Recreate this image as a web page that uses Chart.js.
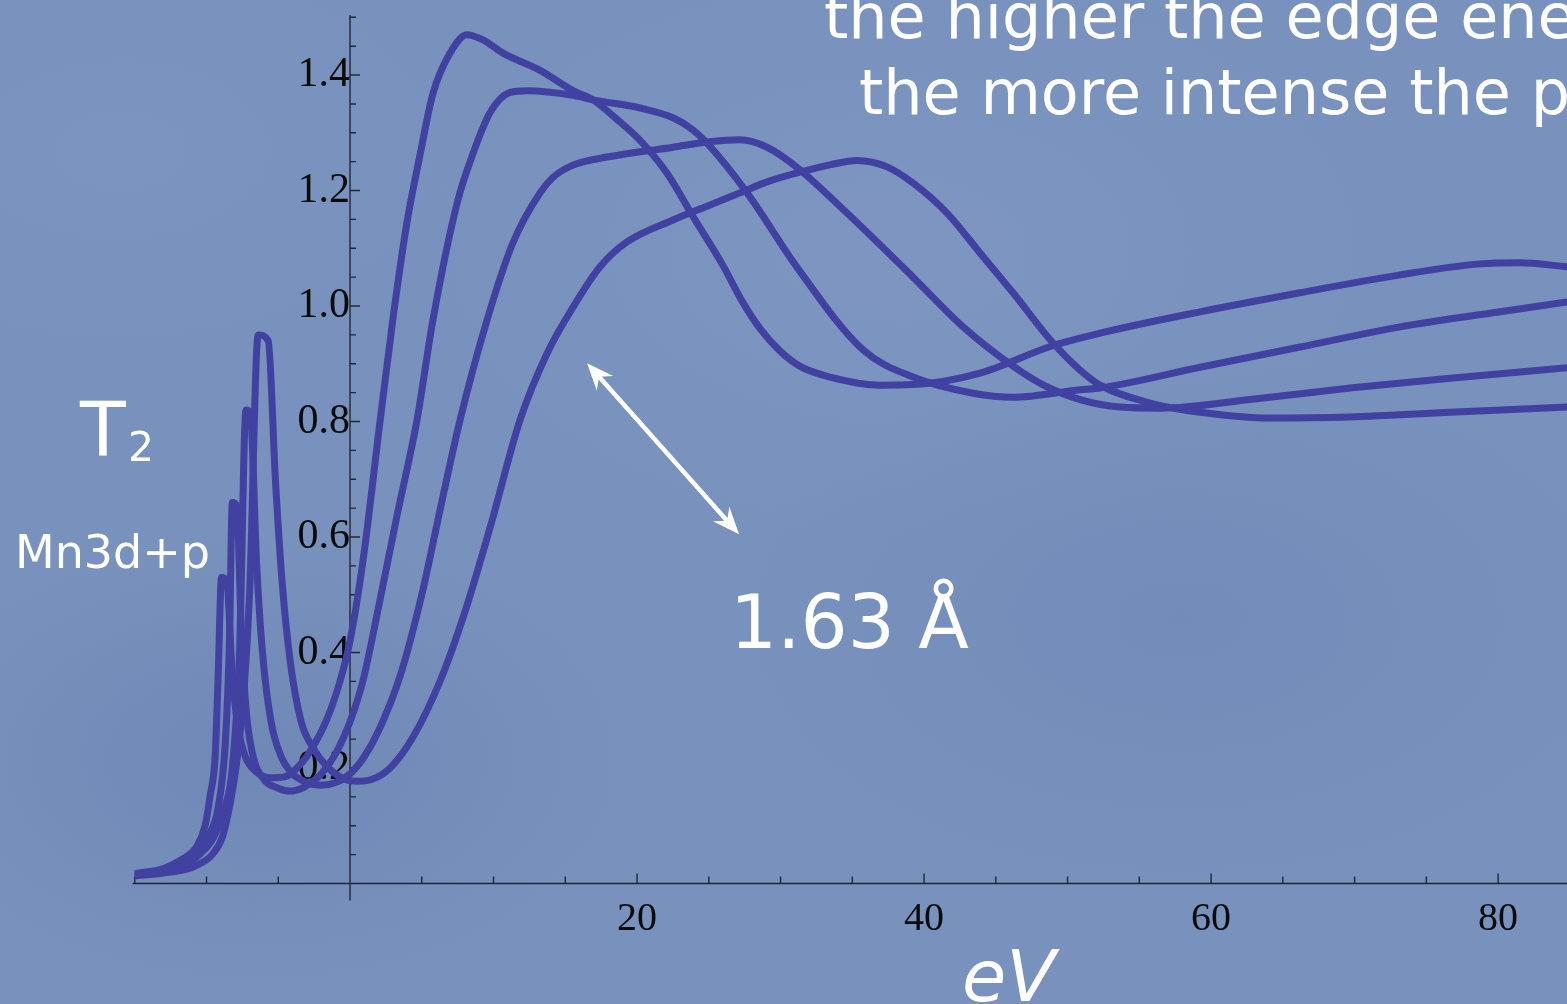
<!DOCTYPE html>
<html>
<head>
<meta charset="utf-8">
<title>T2 Mn3d+p</title>
<script src="https://cdn.jsdelivr.net/npm/chart.js@4.4.1/dist/chart.umd.min.js"></script>
<style>
  html, body { margin: 0; padding: 0; }
  body { width: 1567px; height: 1004px; overflow: hidden; background: #7891bd; }
  #stage {
    position: relative; width: 1567px; height: 1004px; overflow: hidden;
    background:
      radial-gradient(ellipse 520px 320px at 260px 760px, rgba(92,112,160,0.28), rgba(92,112,160,0) 70%),
      radial-gradient(ellipse 640px 380px at 1180px 620px, rgba(100,120,168,0.22), rgba(100,120,168,0) 70%),
      radial-gradient(ellipse 700px 420px at 900px 250px, rgba(150,168,208,0.20), rgba(150,168,208,0) 70%),
      radial-gradient(ellipse 500px 300px at 120px 150px, rgba(140,160,204,0.18), rgba(140,160,204,0) 70%),
      #7891bd;
  }
  canvas { position: absolute; left: 0; top: 0; }
  .note {
    position: absolute; color: #ffffff; white-space: nowrap; line-height: 1;
    font-family: 'DejaVu Sans', 'Noto Sans', sans-serif;
  }
</style>
</head>
<body>
<div id="stage">
  <canvas id="chart" width="1567" height="1004"></canvas>
  <div class="note" style="left:824px; top:-14px; font-size:62px;">the higher the edge energy</div>
  <div class="note" style="left:859px; top:62px; font-size:62px;">the more intense the pre-edge</div>
  <div class="note" style="left:80px; top:392px; font-size:75px;">T</div>
  <div class="note" style="left:128px; top:427px; font-size:41px;">2</div>
  <div class="note" style="left:15px; top:529px; font-size:46px;">Mn3d+p</div>
  <div class="note" style="left:730px; top:585px; font-size:74px;">1.63 Å</div>
  <div class="note" style="left:962px; top:940px; font-size:72px; font-style:oblique;">eV</div>
</div>
<script>
// Photon energy relative to the edge (eV) and T2 intensity for four Mn–O distances.
const energyA = [-15, -13, -11.85, -10.66, -10.1, -9.76, -9.4, -9.2, -8.95, -8.6,
  -8.2, -7.8, -7.3, -6.6, -5.6, -4.5, -3.5, -2.6, -1.6, -0.7,
  0, 0.91, 2.09, 3.0, 3.97, 4.88, 5.78, 6.97, 8.15, 9.27,
  10.66, 13.24, 15.54, 16.93, 18.61, 20.21, 22.09, 23.9, 25.99, 27.4,
  28.6, 29.97, 31.4, 33.45, 36.93, 39.23, 43.9, 48.8, 52.26, 59.23,
  66.2, 73.17, 78.75, 81.53, 84.8];
const intensityA = [0.017, 0.026, 0.04, 0.065, 0.1, 0.15, 0.22, 0.35, 0.53, 0.525,
  0.36, 0.27, 0.22, 0.195, 0.183, 0.185, 0.205, 0.236, 0.285, 0.35,
  0.42, 0.56, 0.80, 0.98, 1.145, 1.262, 1.368, 1.438, 1.47, 1.461,
  1.438, 1.408, 1.373, 1.357, 1.323, 1.287, 1.23, 1.155, 1.07, 1.005,
  0.96, 0.922, 0.895, 0.877, 0.863, 0.864, 0.884, 0.93, 0.953, 0.99,
  1.023, 1.054, 1.073, 1.075, 1.068];

const energyB = [-15, -13, -11.5, -10.5, -9.8, -9.2, -8.7, -8.4, -8.2, -7.9,
  -7.55, -7.2, -6.7, -6.0, -5.0, -4.2, -3.2, -2.0, -1.0, 0,
  0.91, 2.0, 3.3, 4.67, 5.78, 7.46, 8.57, 9.76, 11.15, 12.33,
  15.54, 16.93, 20.21, 22.51, 23.9, 24.88, 27.67, 31.15, 35.75, 39.23,
  43.41, 46.2, 50.87, 52.26, 59.23, 66.2, 73.17, 80.14, 84.8];
const intensityB = [0.016, 0.023, 0.036, 0.055, 0.085, 0.13, 0.24, 0.42, 0.66, 0.655,
  0.42, 0.29, 0.215, 0.18, 0.165, 0.16, 0.167, 0.19, 0.225, 0.28,
  0.352, 0.48, 0.64, 0.803, 0.976, 1.178, 1.264, 1.335, 1.37, 1.373,
  1.365, 1.357, 1.343, 1.326, 1.305, 1.282, 1.196, 1.067, 0.924, 0.877,
  0.849, 0.842, 0.855, 0.858, 0.894, 0.929, 0.964, 0.99, 1.007];

const energyC = [-15, -13, -11.5, -10.5, -9.5, -8.8, -8.2, -7.7, -7.25, -6.95,
  -6.5, -6.1, -5.5, -4.8, -4.0, -3.0, -2.1, -1.0, 0, 1.0,
  2.0, 3.5, 5.0, 6.3, 7.67, 9.55, 11.36, 13.24, 14.15, 15.54,
  17.91, 22.51, 24.88, 27.18, 29.06, 31.15, 34.63, 39.23, 42.72, 46.2,
  48.57, 50.87, 53.66, 56.5, 62.72, 69.69, 76.66, 84.8];
const intensityC = [0.015, 0.021, 0.032, 0.05, 0.08, 0.125, 0.2, 0.4, 0.82, 0.815,
  0.55, 0.4, 0.28, 0.22, 0.19, 0.175, 0.17, 0.175, 0.19, 0.22,
  0.265, 0.36, 0.5, 0.65, 0.803, 0.976, 1.11, 1.196, 1.223, 1.244,
  1.258, 1.275, 1.284, 1.288, 1.275, 1.24, 1.161, 1.05, 0.964, 0.896,
  0.86, 0.838, 0.825, 0.823, 0.838, 0.858, 0.875, 0.893];

const energyD = [-15, -13, -11.5, -10.8, -9.6, -8.9, -8.5, -8.2, -7.9, -7.4,
  -7.0, -6.4, -5.7, -5.2, -4.74, -4.18, -3.4, -2.6, -1.5, -0.5,
  0.5, 1.5, 2.8, 4.4, 6.3, 8.0, 9.8, 11.85, 13.73, 15.54,
  17.42, 19.3, 22.51, 24.88, 27.18, 29.06, 31.85, 33.5, 35.33, 37.42,
  39.23, 41.6, 43.9, 46.2, 48.99, 50.87, 52.26, 55.75, 59.23, 64.11,
  69.69, 76.66, 84.8];
const intensityD = [0.013, 0.018, 0.024, 0.03, 0.05, 0.08, 0.12, 0.16, 0.21, 0.33,
  0.5, 0.95, 0.94, 0.7, 0.525, 0.387, 0.28, 0.236, 0.2, 0.182,
  0.177, 0.18, 0.2, 0.254, 0.352, 0.47, 0.62, 0.803, 0.918, 0.998,
  1.068, 1.111, 1.149, 1.173, 1.196, 1.215, 1.235, 1.245, 1.252, 1.241,
  1.213, 1.161, 1.092, 1.023, 0.936, 0.889, 0.863, 0.832, 0.816, 0.806,
  0.808, 0.816, 0.825];

// Axis labelling
const xTickLabels = [20, 40, 60, 80];
const yTickLabels = [0.2, 0.4, 0.6, 0.8, 1.0, 1.2, 1.4];
const xRange = [-15, 84.8];
const yRange = [0, 1.504];

// Double-headed arrow next to the 1.63 Å label, in (eV, intensity) units
const arrowFrom = [16.52, 0.901];
const arrowTo = [27.11, 0.605];

const xTickValues = [];
for (let i = -3; i <= 16; i++) xTickValues.push(i * 5);
const yTickValues = [];
for (let i = 1; i <= 30; i++) yTickValues.push(i * 5 / 100);

const isLabelled = (list, v) => list.some(l => Math.abs(l - v) < 1e-9);

const curves = [
  [energyA, intensityA],
  [energyB, intensityB],
  [energyC, intensityC],
  [energyD, intensityD]
];

const LINE = '#4141a1';

// Axes cross at the origin; tick marks point into the plot.
const crossAxes = {
  id: 'crossAxes',
  beforeDatasetsDraw(chart) {
    const { ctx, chartArea, scales: { x, y } } = chart;
    const x0 = x.getPixelForValue(0);
    const y0 = y.getPixelForValue(0);
    ctx.save();
    ctx.strokeStyle = '#222736';
    ctx.lineWidth = 1.4;
    ctx.beginPath();
    ctx.moveTo(chartArea.left - 2, y0);
    ctx.lineTo(chartArea.right, y0);
    ctx.moveTo(x0, y.getPixelForValue(y.max));
    ctx.lineTo(x0, y0 + 17);
    x.ticks.forEach(t => {
      if (t.value === 0) return;
      const px = x.getPixelForValue(t.value);
      const len = isLabelled(xTickLabels, t.value) ? 10 : 7;
      ctx.moveTo(px, y0);
      ctx.lineTo(px, y0 - len);
    });
    y.ticks.forEach(t => {
      const py = y.getPixelForValue(t.value);
      const len = isLabelled(yTickLabels, t.value) ? 10 : 6;
      ctx.moveTo(x0, py);
      ctx.lineTo(x0 + len, py);
    });
    ctx.stroke();
    ctx.restore();
  }
};

function arrowHead(ctx, tx, ty, ang) {
  const head = 27, half = 11, notch = 18;
  const c = Math.cos(ang), s = Math.sin(ang);
  const bx = tx - c * head, by = ty - s * head;
  ctx.beginPath();
  ctx.moveTo(tx, ty);
  ctx.lineTo(bx - s * half, by + c * half);
  ctx.lineTo(tx - c * notch, ty - s * notch);
  ctx.lineTo(bx + s * half, by - c * half);
  ctx.closePath();
  ctx.fill();
}

const distanceArrow = {
  id: 'distanceArrow',
  afterDatasetsDraw(chart) {
    const { ctx, scales: { x, y } } = chart;
    const x1 = x.getPixelForValue(arrowFrom[0]), y1 = y.getPixelForValue(arrowFrom[1]);
    const x2 = x.getPixelForValue(arrowTo[0]), y2 = y.getPixelForValue(arrowTo[1]);
    const ang = Math.atan2(y2 - y1, x2 - x1);
    const c = Math.cos(ang), s = Math.sin(ang);
    ctx.save();
    ctx.strokeStyle = '#ffffff';
    ctx.fillStyle = '#ffffff';
    ctx.lineWidth = 4.5;
    ctx.beginPath();
    ctx.moveTo(x1 + c * 16, y1 + s * 16);
    ctx.lineTo(x2 - c * 16, y2 - s * 16);
    ctx.stroke();
    arrowHead(ctx, x2, y2, ang);
    arrowHead(ctx, x1, y1, ang + Math.PI);
    ctx.restore();
  }
};

const serif = "'Liberation Serif', 'DejaVu Serif', serif";

new Chart(document.getElementById('chart'), {
  type: 'line',
  data: {
    datasets: curves.map(([ex, iy]) => ({
      data: ex.map((e, i) => ({ x: e, y: iy[i] })),
      borderColor: LINE,
      borderWidth: 7,
      pointRadius: 0,
      fill: false,
      cubicInterpolationMode: 'monotone',
      borderJoinStyle: 'round',
      borderCapStyle: 'round'
    }))
  },
  options: {
    responsive: false,
    animation: false,
    devicePixelRatio: 1,
    layout: { padding: { left: 134.75, right: 0, top: 15, bottom: 0 } },
    plugins: { legend: { display: false }, tooltip: { enabled: false } },
    scales: {
      x: {
        type: 'linear',
        min: xRange[0],
        max: xRange[1],
        afterFit(scale) {
          scale.height = 120.5;
          scale.paddingLeft = 0;
          scale.paddingRight = 0;
        },
        afterBuildTicks(scale) { scale.ticks = xTickValues.map(v => ({ value: v })); },
        grid: { display: false, drawTicks: false },
        border: { display: false },
        ticks: {
          autoSkip: false, maxRotation: 0, padding: 12,
          color: '#0b0b0b', font: { family: serif, size: 40 },
          callback: v => isLabelled(xTickLabels, v) ? String(v) : ''
        }
      },
      y: {
        type: 'linear',
        min: yRange[0],
        max: yRange[1],
        position: { x: 0 },
        afterFit(scale) {
          scale.paddingTop = 0;
          scale.paddingBottom = 0;
        },
        afterBuildTicks(scale) { scale.ticks = yTickValues.map(v => ({ value: v })); },
        grid: { display: false, drawTicks: false },
        border: { display: false },
        ticks: {
          autoSkip: false, padding: 14,
          color: '#0b0b0b', font: { family: serif, size: 42 },
          callback: v => isLabelled(yTickLabels, v) ? v.toFixed(1) : ''
        }
      }
    }
  },
  plugins: [crossAxes, distanceArrow]
});
</script>
</body>
</html>
